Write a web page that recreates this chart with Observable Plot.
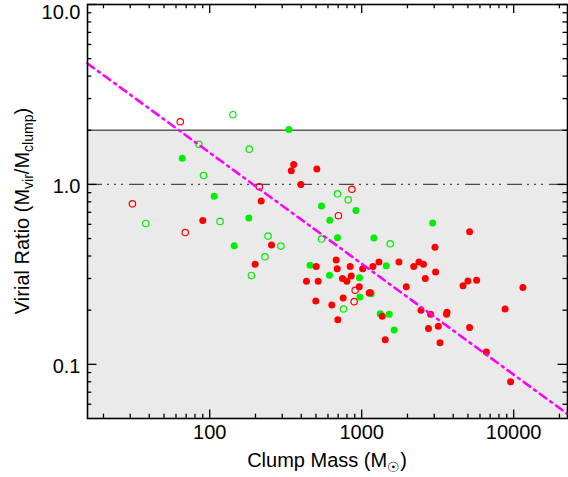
<!DOCTYPE html>
<html><head><meta charset="utf-8">
<script src="https://cdn.jsdelivr.net/npm/d3@7"></script>
<script src="https://cdn.jsdelivr.net/npm/@observablehq/plot@0.6"></script>
<style>body{margin:0;background:#fff}</style>
</head><body><div id="chart"></div>
<script>
// ---- data: [clump mass (Msun), virial ratio] ----
const redFilled = [
  [90,0.63],[199,0.36],[218,0.81],[255,0.46],[357,1.29],[344,1.19],[507,1.22],[398,1.0],
  [679,0.38],[690,0.34],[502,0.35],[840,0.35],[1015,0.34],[1185,0.35],[1298,0.37],[1758,0.37],
  [2200,0.35],[2380,0.37],[2550,0.36],[853,0.31],[433,0.29],[517,0.29],[747,0.30],[799,0.29],
  [963,0.27],[1138,0.25],[499,0.225],[636,0.214],[755,0.234],[697,0.177],[1365,0.185],[1428,0.137],
  [1965,0.27],[2620,0.30],[3063,0.326],[3035,0.447],[5130,0.545],[4640,0.273],[5000,0.291],[5700,0.293],
  [11500,0.267],[2455,0.20],[2840,0.19],[3620,0.19],[3640,0.195],[8780,0.203],[2750,0.158],[3190,0.163],
  [5130,0.160],[3275,0.132],[6610,0.117],[9550,0.080]
];
const redOpen = [[64,2.23],[212,0.97],[31,0.78],[69,0.54],[862,0.94],[703,0.67],[906,0.258],[892,0.223],[1126,0.249]];
const greenFilled = [
  [66,1.40],[107,0.86],[181,0.65],[145,0.456],[332,2.02],[544,0.758],[916,0.717],[617,0.633],[693,0.505],
  [1203,0.503],[458,0.355],[1450,0.353],[614,0.313],[967,0.303],[1155,0.247],[973,0.237],[1324,0.191],
  [1518,0.19],[1637,0.155],[2930,0.61]
];
const greenOpen = [
  [142,2.44],[85,1.67],[182,1.57],[91,1.12],[38,0.607],[117,0.623],[188,0.312],[242,0.516],[294,0.454],
  [231,0.396],[693,0.887],[815,0.821],[544,0.497],[1540,0.468],[759,0.203]
];
const fitMass = [15.7, 22600];
const fitRatio = [4.7, 0.053];
const boundLevel = [2];
const equilLevel = [1];
const xDomain = [15.7, 22600];
const yDomain = [0.05, 10];
const xMajor = [100, 1000, 10000];
const xMajorLabels = ["100", "1000", "10000"];
const xMinor = [20,30,40,50,60,70,80,90,200,300,400,500,600,700,800,900,2000,3000,4000,5000,6000,7000,8000,9000,20000];
const yMajor = [0.1, 1, 10];
const yMajorLabels = ["0.1", "1.0", "10.0"];
const yMinor = [0.06,0.07,0.08,0.09,0.2,0.3,0.4,0.5,0.6,0.7,0.8,0.9,2,3,4,5,6,7,8,9];

// ---- build ----
const toRows = arr => arr.map(([m, r]) => ({m, r}));
const W = 568, H = 477, mL = 87, mR = 1, mT = 4, mB = 59;
const fw = W - mL - mR, fh = H - mT - mB;
const fitRows = fitMass.map((m, i) => ({m, r: fitRatio[i]}));
const yLowLabels = yMajor.slice(0, 2).map((v, i) => ({v, t: yMajorLabels[i]}));
const yTopLabels = yMajor.slice(2).map((v, i) => ({v, t: yMajorLabels[i + 2]}));
const xLabels = xMajor.map((v, i) => ({v, t: xMajorLabels[i]}));
const font = "'Liberation Sans', Arial, Helvetica, sans-serif";
const red = "#ff0000", green = "#00ee00";

const chart = Plot.plot({
  width: W, height: H,
  marginLeft: mL, marginRight: mR, marginTop: mT, marginBottom: mB,
  style: {background: "white", fontFamily: font, fontSize: "20px", color: "black"},
  x: {type: "log", domain: xDomain, axis: null},
  y: {type: "log", domain: yDomain, axis: null},
  marks: [
    Plot.rect([0], {x1: () => xDomain[0], x2: () => xDomain[1], y1: () => yDomain[0], y2: () => boundLevel[0], fill: "#eaeaea"}),
    Plot.ruleY(boundLevel, {stroke: "#5c5c5c", strokeWidth: 1.4}),
    Plot.ruleY(equilLevel, {stroke: "#4a4a4a", strokeWidth: 1.4, strokeDasharray: "15,5,2,5,2,5,2,6"}),
    Plot.dot(toRows(redOpen), {x: "m", y: "r", r: 3.2, stroke: red, strokeWidth: 1.2, fill: "none"}),
    Plot.dot(toRows(greenOpen), {x: "m", y: "r", r: 3.2, stroke: green, strokeWidth: 1.2, fill: "none"}),
    Plot.dot(toRows(greenFilled), {x: "m", y: "r", r: 3.5, fill: green, stroke: "none"}),
    Plot.dot(toRows(redFilled), {x: "m", y: "r", r: 3.5, fill: red, stroke: "none"}),
    Plot.line(fitRows, {x: "m", y: "r", stroke: "#ff00ff", strokeWidth: 2.6, strokeDasharray: "8,5,2,5"}),
    Plot.frame({stroke: "black", strokeWidth: 1.6}),
    // inward ticks, all four sides
    Plot.tickX(xMajor, {x: d => d, insetTop: fh - 8.5, stroke: "black", strokeWidth: 1.3}),
    Plot.tickX(xMajor, {x: d => d, insetBottom: fh - 9, stroke: "black", strokeWidth: 1.3}),
    Plot.tickX(xMinor, {x: d => d, insetTop: fh - 4.3, stroke: "black", strokeWidth: 1.3}),
    Plot.tickX(xMinor, {x: d => d, insetBottom: fh - 4.3, stroke: "black", strokeWidth: 1.3}),
    Plot.tickY(yMajor, {y: d => d, insetRight: fw - 9.5, stroke: "black", strokeWidth: 1.3}),
    Plot.tickY(yMajor, {y: d => d, insetLeft: fw - 9.5, stroke: "black", strokeWidth: 1.3}),
    Plot.tickY(yMinor, {y: d => d, insetRight: fw - 4.3, stroke: "black", strokeWidth: 1.3}),
    Plot.tickY(yMinor, {y: d => d, insetLeft: fw - 4.5, stroke: "black", strokeWidth: 1.3}),
    // tick labels
    Plot.text(xLabels, {x: "v", text: "t", frameAnchor: "bottom", dy: 20.5, textAnchor: "middle", fill: "black", fontSize: 20}),
    Plot.text(yLowLabels, {y: "v", text: "t", frameAnchor: "left", dx: -7, dy: 2, textAnchor: "end", fill: "black", fontSize: 20}),
    Plot.text(yTopLabels, {y: "v", text: "t", frameAnchor: "left", dx: -7, dy: 8, textAnchor: "end", fill: "black", fontSize: 20})
  ]
});
document.getElementById("chart").appendChild(chart);

// axis titles with subscripts
const svg = d3.select(chart);
const xt = svg.append("text")
  .attr("x", mL + fw / 2).attr("y", 467)
  .attr("text-anchor", "middle")
  .style("font-family", font).style("font-size", "20px").attr("fill", "black");
xt.append("tspan").text("Clump Mass (M");
xt.append("tspan").attr("dy", 5).style("font-size", "14px").text("\u2609");
xt.append("tspan").attr("dy", -5).text(")");

const yt = svg.append("text")
  .attr("transform", `translate(29,${mT + fh / 2}) rotate(-90)`)
  .attr("text-anchor", "middle")
  .style("font-family", font).style("font-size", "20px").attr("fill", "black");
yt.append("tspan").text("Virial Ratio (M");
yt.append("tspan").attr("dy", 4).style("font-size", "14px").text("vir");
yt.append("tspan").attr("dy", -4).text("/M");
yt.append("tspan").attr("dy", 4).style("font-size", "14px").text("clump");
yt.append("tspan").attr("dy", -4).text(")");
</script></body></html>
